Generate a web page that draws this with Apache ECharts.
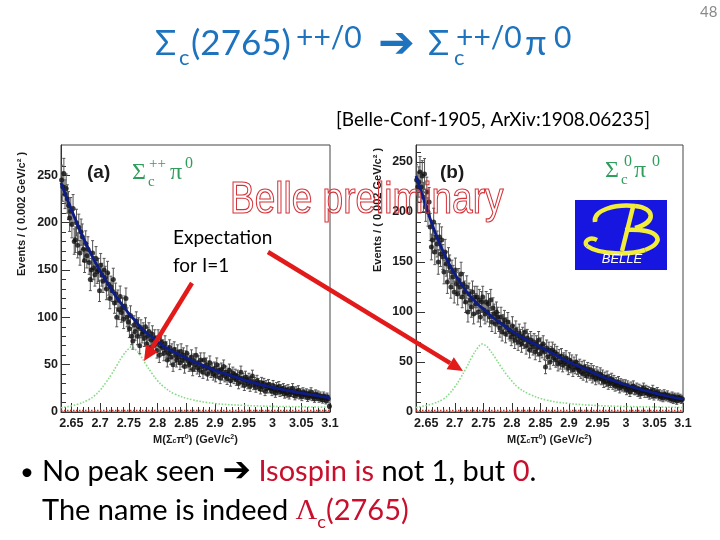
<!DOCTYPE html>
<html>
<head>
<meta charset="utf-8">
<script src="https://cdn.jsdelivr.net/npm/echarts@6/dist/echarts.min.js"></script>
<style>
  html, body { margin: 0; padding: 0; background: #fff; }
  #main { width: 720px; height: 540px; }
</style>
</head>
<body>
<div id="main"></div>
<script>
// histogram binning (GeV/c^2)
const binStart = 2.632;
const binWidth = 0.002;

// (a) Sigma_c++ pi0 : events per bin
const countsA = [245, 238,
  252, 230, 236, 225, 218, 205, 212, 198, 215, 180,
  182, 200, 176, 195, 168, 190, 185, 172, 160, 178,
  165, 172, 158, 140, 150, 168, 152, 145, 162, 148,
  150, 128, 155, 145, 138, 150, 142, 130, 147, 135,
  120, 132, 128, 140, 115, 125, 100, 118, 108, 122,
  105, 110, 98, 112, 120, 100, 95, 88, 102, 80,
  75, 92, 85, 96, 80, 90, 70, 88, 82, 85,
  78, 90, 72, 80, 85, 68, 76, 82, 70, 78,
  72, 65, 78, 60, 70, 74, 68, 62, 72, 66,
  55, 62, 68, 58, 64, 50, 66, 60, 55, 63,
  58, 52, 64, 55, 60, 48, 57, 62, 54, 50,
  52, 58, 45, 54, 50, 60, 47, 52, 44, 55,
  48, 42, 55, 46, 50, 40, 47, 52, 43, 45,
  40, 46, 38, 50, 42, 44, 36, 45, 40, 48,
  38, 42, 35, 40, 44, 33, 38, 41, 36, 39,
  34, 38, 30, 36, 42, 32, 35, 28, 37, 33,
  30, 35, 27, 32, 38, 29, 31, 26, 33, 30,
  28, 24, 31, 27, 30, 22, 28, 25, 29, 26,
  25, 22, 28, 24, 20, 26, 23, 27, 21, 24,
  22, 25, 19, 23, 20, 24, 18, 22, 21, 25,
  20, 17, 22, 19, 23, 18, 20, 16, 21, 19,
  18, 20, 15, 19, 17, 21, 16, 18, 14, 19,
  16, 18, 14, 17, 15, 13, 17, 15, 12, 16, 14, 6];

// (b) Sigma_c0 pi0 : events per bin
const countsB = [232, 225,
  230, 240, 225, 236, 215, 238, 205, 220, 200, 210,
  185, 165, 172, 190, 160, 175, 168, 150, 175, 158,
  172, 155, 140, 160, 148, 130, 152, 145, 125, 140,
  135, 120, 142, 128, 118, 132, 125, 138, 115, 128,
  120, 110, 125, 100, 118, 112, 105, 120, 98, 115,
  108, 115, 100, 112, 95, 110, 115, 102, 98, 110,
  100, 108, 95, 112, 90, 104, 98, 88, 100, 95,
  90, 84, 95, 80, 88, 92, 78, 85, 90, 82,
  80, 75, 86, 78, 72, 82, 76, 70, 79, 74,
  68, 76, 72, 80, 66, 74, 70, 62, 72, 68,
  65, 70, 60, 68, 64, 72, 58, 66, 62, 68,
  60, 45, 64, 55, 62, 50, 58, 62, 54, 60,
  52, 58, 48, 55, 50, 56, 47, 52, 50, 54,
  48, 44, 52, 46, 50, 42, 48, 45, 50, 44,
  42, 46, 40, 44, 38, 45, 41, 36, 43, 40,
  38, 42, 35, 40, 37, 33, 39, 36, 34, 38,
  33, 36, 30, 34, 31, 35, 28, 32, 30, 33,
  28, 31, 26, 29, 27, 30, 24, 28, 26, 27,
  25, 27, 22, 26, 24, 20, 25, 23, 26, 22,
  22, 24, 20, 23, 18, 22, 21, 24, 19, 22,
  19, 21, 17, 20, 18, 22, 16, 19, 18, 20,
  16, 18, 15, 17, 14, 18, 16, 15, 17, 14,
  15, 13, 16, 12, 15, 14, 11, 15, 13, 14, 12, 13];

// fitted curves
const fitMass = [2.632, 2.65, 2.66, 2.67, 2.68, 2.69, 2.70, 2.71, 2.72, 2.73, 2.74, 2.75, 2.76, 2.77, 2.78, 2.79,
  2.80, 2.82, 2.84, 2.86, 2.88, 2.90, 2.92, 2.94, 2.96, 2.98, 3.00, 3.02, 3.04, 3.06, 3.08, 3.10];
const fitA = [242, 214, 199, 185, 172, 160, 149, 139, 129, 120, 112, 104, 97, 90, 84, 79,
  74, 66, 60, 54, 49, 44, 40, 36, 32, 29, 26, 23.5, 21, 19, 17, 15];
const fitB = [236, 205, 188, 173, 160, 148, 138, 129, 121, 114, 108, 103, 98, 93, 89, 85,
  81, 74, 68, 62, 56, 50, 45, 40, 35, 31, 27, 23.5, 20.5, 17.5, 15, 13];

// expected I=1 signal (green dotted)
const peakMassA = [2.632, 2.66, 2.68, 2.69, 2.70, 2.71, 2.72, 2.73, 2.74, 2.75, 2.755, 2.76, 2.77, 2.78, 2.79,
  2.80, 2.81, 2.83, 2.86, 2.90, 2.95, 3.00, 3.05, 3.10];
const peakA = [4.5, 8, 13, 17, 23, 31, 40, 50, 60, 67, 69, 67, 60, 50, 41, 33, 27, 19, 13, 9, 7, 6, 5.5, 5];
const peakMassB = [2.632, 2.66, 2.68, 2.69, 2.70, 2.71, 2.72, 2.73, 2.74, 2.748, 2.755, 2.76, 2.77, 2.78, 2.79,
  2.80, 2.81, 2.83, 2.86, 2.90, 2.95, 3.00, 3.05, 3.10];
const peakB = [4.5, 8, 13, 18, 25, 34, 44, 55, 64, 68, 66, 63, 55, 46, 38, 31, 25, 18, 12, 8.5, 6.5, 5.5, 5, 4.5];

// small background component along the bottom (red dotted)
const bkgMass = [2.632, 3.1];
const bkgLevel = [1.5, 1.5];

// axis ticks
const massTicks = [2.65, 2.7, 2.75, 2.8, 2.85, 2.9, 2.95, 3, 3.05, 3.1];
const countTicks = [0, 50, 100, 150, 200, 250];

const minorMass = [];
for (let m = 264; m <= 310; m++) minorMass.push(m / 100);
const minorCount = [];
for (let c = 0; c <= 260; c += 10) minorCount.push(c);

const chart = echarts.init(document.getElementById('main'));

const axisFont = 'Liberation Sans';
const slideFont = 'Lato';
const ink = '#1b1b1b';
const blue = '#1e73be';
const red = '#c8102e';
const green = '#2f9e5c';

function pairs(xs, ys) {
  return xs.map((x, i) => [x, ys[i]]);
}
function binned(counts) {
  return counts.map((n, i) => [binStart + binWidth * (i + 0.5), n, Math.sqrt(n)]);
}

function massAxis(g, minor) {
  const ax = {
    type: 'value', gridIndex: g, min: 2.632, max: 3.1, position: 'bottom',
    splitLine: { show: false },
    axisLine: { show: !minor, lineStyle: { color: '#333' } },
    axisTick: { inside: true, length: minor ? 5 : 9, customValues: minor ? minorMass : massTicks,
      lineStyle: { color: '#333' } },
    axisLabel: { show: !minor, customValues: massTicks, margin: 5, color: ink,
      fontFamily: axisFont, fontWeight: 'bold', fontSize: 12.5 }
  };
  if (!minor) {
    ax.name = 'M({s|Σ}{sb|c}{s|π}{sp|0}) (GeV/c{sp|2})';
    ax.nameLocation = 'middle';
    ax.nameGap = 22;
    ax.nameTextStyle = {
      color: ink, fontFamily: axisFont, fontWeight: 'bold', fontSize: 11,
      rich: {
        s: { fontFamily: axisFont, fontWeight: 'bold', fontSize: 11, color: ink },
        sb: { fontFamily: axisFont, fontWeight: 'bold', fontSize: 7, color: ink, verticalAlign: 'bottom', lineHeight: 10 },
        sp: { fontFamily: axisFont, fontWeight: 'bold', fontSize: 7, color: ink, verticalAlign: 'top', lineHeight: 10 }
      }
    };
  }
  return ax;
}

function countAxis(g, max, minor) {
  return {
    type: 'value', gridIndex: g, min: 0, max: max, position: 'left',
    splitLine: { show: false },
    axisLine: { show: !minor, lineStyle: { color: '#333' } },
    axisTick: { inside: true, length: minor ? 5 : 9, customValues: minor ? minorCount : countTicks,
      lineStyle: { color: '#333' } },
    axisLabel: { show: !minor, customValues: countTicks, margin: 3, color: ink,
      fontFamily: axisFont, fontWeight: 'bold', fontSize: 12.5 }
  };
}

function errorSeries(ax, data) {
  return {
    type: 'custom', xAxisIndex: ax, yAxisIndex: ax, clip: true, z: 3,
    data: data,
    renderItem: function (params, api) {
      const x = api.value(0), y = api.value(1), e = api.value(2);
      const top = api.coord([x, y + e]);
      const bot = api.coord([x, Math.max(y - e, 0)]);
      const st = { stroke: '#555', lineWidth: 1 };
      return {
        type: 'group',
        children: [
          { type: 'line', shape: { x1: top[0], y1: top[1], x2: bot[0], y2: bot[1] }, style: st },
          { type: 'line', shape: { x1: top[0] - 1.5, y1: top[1], x2: top[0] + 1.5, y2: top[1] }, style: st },
          { type: 'line', shape: { x1: bot[0] - 1.5, y1: bot[1], x2: bot[0] + 1.5, y2: bot[1] }, style: st }
        ]
      };
    }
  };
}

function panelSeries(ax, counts, fit, peakMass, peak) {
  return [
    { type: 'line', xAxisIndex: ax, yAxisIndex: ax, data: pairs(bkgMass, bkgLevel), symbol: 'none', z: 2,
      lineStyle: { color: '#c0392b', width: 1.5, type: 'dotted' } },
    { type: 'line', xAxisIndex: ax, yAxisIndex: ax, data: pairs(peakMass, peak), symbol: 'none', smooth: 0.4, z: 2,
      lineStyle: { color: '#86dd86', width: 1.6, type: 'dotted' } },
    errorSeries(ax, binned(counts)),
    { type: 'scatter', xAxisIndex: ax, yAxisIndex: ax, data: binned(counts), symbolSize: 5, z: 4,
      itemStyle: { color: '#111' } },
    { type: 'line', xAxisIndex: ax, yAxisIndex: ax, data: pairs(fitMass, fit), symbol: 'none', smooth: 0.4, z: 5,
      lineStyle: { color: '#0e1d85', width: 2.8 } }
  ];
}

function arrow(x1, y1, x2, y2) {
  const ang = Math.atan2(y2 - y1, x2 - x1);
  const L = 15, W = 7;
  const bx = x2 - L * Math.cos(ang), by = y2 - L * Math.sin(ang);
  const px = -Math.sin(ang) * W, py = Math.cos(ang) * W;
  return [
    { type: 'line', z: 20, shape: { x1: x1, y1: y1, x2: bx, y2: by },
      style: { stroke: '#e21a1a', lineWidth: 4.5 } },
    { type: 'polygon', z: 20, shape: { points: [[x2, y2], [bx + px, by + py], [bx - px, by - py]] },
      style: { fill: '#e21a1a' } }
  ];
}

function txt(x, y, text, size, color, family, extra) {
  return { type: 'text', x: x, y: y, z: 12, style: Object.assign({
    text: text, fontSize: size, fill: color, fontFamily: family || slideFont,
    align: 'left', verticalAlign: 'middle' }, extra || {}) };
}

function curve(a) {
  return { type: 'bezierCurve', x: 575, y: 200, z: 11,
    shape: { x1: a[0], y1: a[1], cpx1: a[2], cpy1: a[3], cpx2: a[4], cpy2: a[5], x2: a[6], y2: a[7] },
    style: { stroke: '#f2ec3a', lineWidth: 4.5, fill: null } };
}

const bottomRich = {
  t: { fontFamily: slideFont, fontSize: 29, lineHeight: 40, fill: '#000', verticalAlign: 'middle' },
  r: { fontFamily: slideFont, fontSize: 29, lineHeight: 40, fill: red, verticalAlign: 'middle' },
  a: { fontFamily: 'DejaVu Sans', fontSize: 34, lineHeight: 40, fill: '#000', verticalAlign: 'middle' },
  L: { fontFamily: 'Liberation Serif', fontSize: 30, lineHeight: 40, fill: red, verticalAlign: 'middle' },
  sb: { fontFamily: slideFont, fontSize: 18, lineHeight: 18, fill: red, verticalAlign: 'bottom' }
};

const graphics = [
  txt(700, 12, '48', 15, '#8a8a8a'),

  // slide title
  txt(155, 44, 'Σ', 35, blue),
  txt(179, 58, 'c', 22, blue),
  txt(191, 44, '(2765)', 35, blue),
  txt(296, 38, '++/0', 30, blue),
  txt(378, 46, '➔', 44, blue, 'DejaVu Sans'),
  txt(428, 44, 'Σ', 35, blue),
  txt(454, 58, 'c', 22, blue),
  txt(456, 38, '++/0', 30, blue),
  txt(525, 44, 'π', 35, blue),
  txt(554, 38, '0', 30, blue),
  txt(336, 120, '[Belle-Conf-1905, ArXiv:1908.06235]', 19, '#000'),

  // y-axis titles
  { type: 'text', x: 22, y: 214, rotation: Math.PI / 2, style: { text: 'Events / ( 0.002 GeV/c² )',
    fontFamily: axisFont, fontWeight: 'bold', fontSize: 11, fill: ink, align: 'center', verticalAlign: 'middle' } },
  { type: 'text', x: 378, y: 210, rotation: Math.PI / 2, style: { text: 'Events / ( 0.002 GeV/c² )',
    fontFamily: axisFont, fontWeight: 'bold', fontSize: 11, fill: ink, align: 'center', verticalAlign: 'middle' } },

  // panel labels
  txt(87, 173, '(a)', 19, ink, axisFont, { fontWeight: 'bold' }),
  txt(132, 173, 'Σ', 24, green, 'Liberation Serif'),
  txt(148, 182, 'c', 15, green, 'Liberation Serif'),
  txt(149, 164, '++', 15, green, 'Liberation Serif'),
  txt(170, 173, 'π', 24, green, 'Liberation Serif'),
  txt(185, 164, '0', 16, green, 'Liberation Serif'),
  txt(440, 173, '(b)', 19, ink, axisFont, { fontWeight: 'bold' }),
  txt(605, 171, 'Σ', 24, green, 'Liberation Serif'),
  txt(621, 180, 'c', 15, green, 'Liberation Serif'),
  txt(624, 162, '0', 16, green, 'Liberation Serif'),
  txt(634, 171, 'π', 24, green, 'Liberation Serif'),
  txt(652, 162, '0', 16, green, 'Liberation Serif'),

  // Belle logo
  { type: 'rect', x: 575, y: 200, z: 10, shape: { width: 92, height: 70 }, style: { fill: '#1616e0' } },
  curve([20, 22, 18, 10, 40, 4, 60, 6]),
  curve([60, 6, 80, 8, 82, 22, 60, 28]),
  curve([50, 30, 85, 28, 92, 42, 70, 50]),
  curve([70, 50, 55, 55, 25, 55, 12, 46]),
  curve([12, 46, 8, 42, 14, 36, 22, 40]),
  { type: 'line', x: 575, y: 200, z: 11, shape: { x1: 58, y1: 7, x2: 47, y2: 51 },
    style: { stroke: '#f2ec3a', lineWidth: 4.5 } },
  txt(622, 259, 'BELLE', 13, '#fff', axisFont, { fontStyle: 'italic', align: 'center' }),

  // watermark
  { type: 'text', x: 230, y: 201, scaleY: 1.2, z: 15, style: { text: 'Belle preliminary', fontFamily: axisFont,
    fontSize: 37, fill: 'rgba(255,255,255,0)', stroke: '#d4343a', lineWidth: 1, align: 'left', verticalAlign: 'middle' } },

  // annotation
  txt(173, 238, 'Expectation', 19, '#000'),
  txt(173, 266, 'for I=1', 19, '#000'),
  ...arrow(192, 283, 144, 361),
  ...arrow(268, 252, 463, 371),

  // bottom conclusions
  txt(20, 472, '•', 24, '#000'),
  { type: 'text', x: 42, y: 472, style: {
    text: '{t|No peak seen }{a|➔}{t| }{r|Isospin is}{t| not 1, but }{r|0}{t|.}',
    rich: bottomRich, align: 'left', verticalAlign: 'middle' } },
  { type: 'text', x: 42, y: 511, style: {
    text: '{t|The name is indeed }{L|Λ}{sb|c}{r|(2765)}',
    rich: bottomRich, align: 'left', verticalAlign: 'middle' } }
];

chart.setOption({
  backgroundColor: '#fff',
  animation: false,
  grid: [
    { left: 61, right: 390, top: 145, bottom: 128, show: true, borderColor: '#444', borderWidth: 1, containLabel: false },
    { left: 416, right: 37, top: 145, bottom: 128, show: true, borderColor: '#444', borderWidth: 1, containLabel: false }
  ],
  xAxis: [massAxis(0, false), massAxis(0, true), massAxis(1, false), massAxis(1, true)],
  yAxis: [countAxis(0, 282, false), countAxis(0, 282, true), countAxis(1, 267, false), countAxis(1, 267, true)],
  series: [].concat(
    panelSeries(0, countsA, fitA, peakMassA, peakA),
    panelSeries(2, countsB, fitB, peakMassB, peakB)
  ),
  graphic: graphics
});
</script>
</body>
</html>
